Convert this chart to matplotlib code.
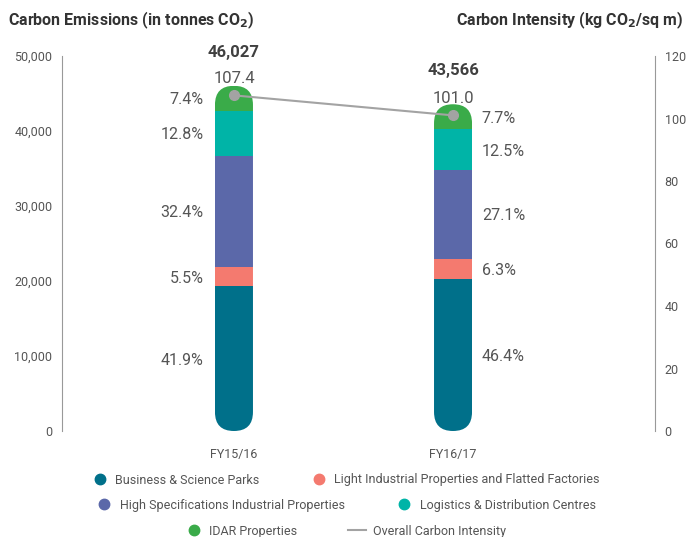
import matplotlib
matplotlib.use('Agg')

import numpy as np
import matplotlib.pyplot as plt
from matplotlib.patches import FancyBboxPatch
from matplotlib.lines import Line2D

plt.rcParams['font.family'] = ['Roboto', 'DejaVu Sans']

years = ["FY15/16", "FY16/17"]
totals = [46027, 43566]
intensity = [107.4, 101.0]
segments = ["Business & Science Parks",
            "Light Industrial Properties and Flatted Factories",
            "High Specifications Industrial Properties",
            "Logistics & Distribution Centres",
            "IDAR Properties"]
pct_fy15 = [41.9, 5.5, 32.4, 12.8, 7.4]
pct_fy16 = [46.4, 6.3, 27.1, 12.5, 7.7]
colors = ["#00708a", "#f47a6f", "#5b68a9", "#00b4a7", "#3aab49"]
line_col = "#a3a3a3"
txt_col = "#555555"

fig = plt.figure(figsize=(6.88, 5.37), dpi=100)
ax = fig.add_axes([62/688, 1-431/537, (655-62)/688, (431-56)/537])
ax2 = ax.twinx()

x = np.arange(len(years))
width = 0.1735
xlim = (-0.785, 1.922)
ax.set_xlim(xlim)
ax.set_ylim(0, 50000)
ax2.set_ylim(0, 120)

# rounded clip shape for the bars
ax_w = (655-62)
ax_h = (431-56)
xpp = (xlim[1]-xlim[0])/ax_w
ypp = 50000/ax_h
rx = width/2
aspect = ypp/xpp

pcts = [pct_fy15, pct_fy16]
for i in range(len(years)):
    clip = FancyBboxPatch((x[i]-width/2, 0), width, totals[i],
                          boxstyle="round,pad=0,rounding_size=%f" % rx,
                          mutation_aspect=aspect, transform=ax.transData,
                          facecolor='none', edgecolor='none')
    ax.add_patch(clip)
    bottom = 0
    for j, p in enumerate(pcts[i]):
        h = totals[i]*p/100.0
        bars = ax.bar(x[i], h, width, bottom=bottom, color=colors[j],
                      linewidth=0)
        for b in bars:
            b.set_clip_path(clip)
        mid = bottom + h/2
        if i == 0:
            ax.annotate("%.1f%%" % p, (x[i]-width/2, mid), xytext=(-8, -1),
                        textcoords='offset points', ha='right', va='center',
                        fontsize=11.5, color=txt_col)
        else:
            ax.annotate("%.1f%%" % p, (x[i]+width/2, mid), xytext=(7, -1),
                        textcoords='offset points', ha='left', va='center',
                        fontsize=11.5, color=txt_col)
        bottom += h
    ax.annotate("{:,}".format(totals[i]), (x[i], totals[i]), xytext=(0, 24),
                textcoords='offset points', ha='center', va='center',
                fontsize=12, fontweight='bold', color="#404040")

ax2.plot(x, intensity, color=line_col, lw=1.5, marker='o', ms=7, zorder=5)
for i in range(len(years)):
    ax2.annotate("%.1f" % intensity[i], (x[i], intensity[i]), xytext=(0, 12),
                 textcoords='offset points', ha='center', va='center',
                 fontsize=12, color=txt_col)

ax.set_xticks(x)
ax.set_xticklabels(years)
ax.set_yticks(np.arange(0, 50001, 10000))
ax.set_yticklabels(["{:,}".format(v) for v in range(0, 50001, 10000)])
ax2.set_yticks(np.arange(0, 121, 20))
for a in (ax, ax2):
    a.tick_params(length=0, labelsize=9, labelcolor=txt_col)
    for s in a.spines.values():
        s.set_visible(False)
ax.tick_params(axis='x', pad=12)
ax.tick_params(axis='y', pad=7)
ax2.tick_params(axis='y', pad=7)
ax.spines['left'].set_visible(True)
ax.spines['left'].set_color("#999999")
ax2.spines['right'].set_visible(True)
ax2.spines['right'].set_color("#999999")

fig.text(8/688, 1-20/537, r"Carbon Emissions (in tonnes CO$_\mathbf{2}$)",
         fontsize=11.5, fontweight='bold', color="#333333", va='center')
fig.text(684/688, 1-20/537, r"Carbon Intensity (kg CO$_\mathbf{2}$/sq m)",
         fontsize=11.5, fontweight='bold', color="#333333", va='center', ha='right')

def dot(c):
    return Line2D([], [], ls='none', marker='o', ms=7.5, color=c)

rows = [([dot(colors[0]), dot(colors[1])], segments[0:2], 480),
        ([dot(colors[2]), dot(colors[3])], segments[2:4], 505),
        ([dot(colors[4]), Line2D([], [], color=line_col, lw=1.5)],
         [segments[4], "Overall Carbon Intensity"], 531)]
for hs, ls, yy in rows:
    fig.legend(hs, ls, loc='center', bbox_to_anchor=(345/688, 1-yy/537),
               ncol=2, frameon=False, fontsize=9, labelcolor=txt_col,
               handlelength=1.5, handletextpad=0.5, columnspacing=4.0,
               borderpad=0, borderaxespad=0)

fig.savefig("out.png", dpi=100)
